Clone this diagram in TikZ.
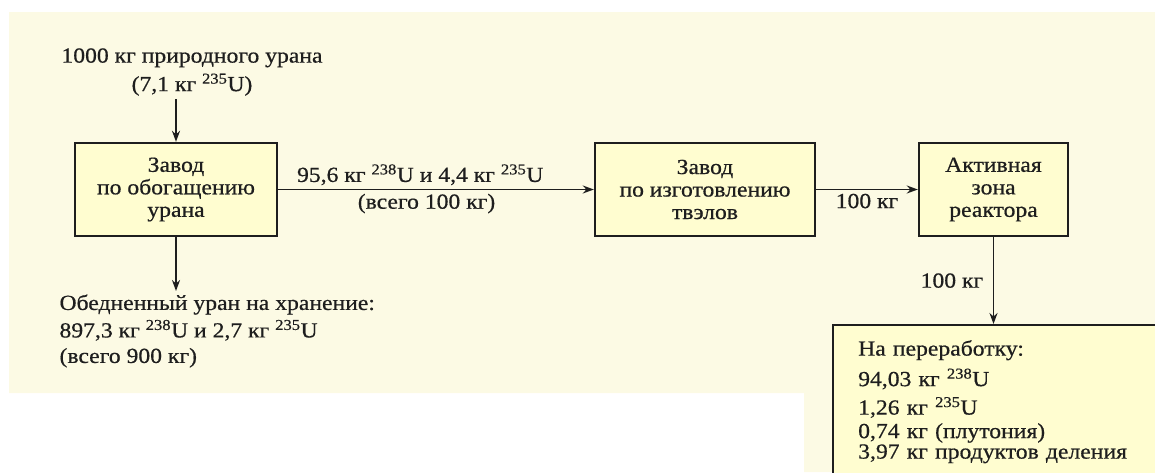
\documentclass[tikz,border=0pt]{standalone}
\usepackage{fontspec}
\setmainfont[FakeStretch=1.1, FakeBold=0.6]{Liberation Serif}
\usepackage{xcolor}
\usetikzlibrary{arrows.meta}
\definecolor{bgcream}{RGB}{252,250,228}
\definecolor{boxyellow}{RGB}{255,253,208}
\definecolor{inkgray}{RGB}{30,30,30}

\begin{document}
\begin{tikzpicture}[x=1pt, y=-1pt, >={Stealth[length=11pt,width=8pt]},
  every node/.style={font=\fontsize{21.5}{22.5}\selectfont, text=inkgray},
  plant/.style={draw=inkgray, fill=boxyellow, line width=2.4pt, minimum height=93pt, align=center, inner sep=0pt},
  flow/.style={->, draw=inkgray, line width=1.9pt}]
\useasboundingbox (0,0) rectangle (1155,472);
\clip (0,0) rectangle (1155,472);
% Background
\fill[bgcream] (9,12) -- (1155,12) -- (1155,472) -- (804,472) -- (804,393) -- (9,393) -- cycle;

% Enrichment
\node[align=center] (natural) at (192,72) {1000 кг природного урана\\[6pt](7,1 кг \textsuperscript{235}U)};
\node[plant, minimum width=202pt] (enrich) at (176,189.5) {Завод\\по обогащению\\урана};
\node[align=left, anchor=north west] (depleted) at (56,291) {Обедненный уран на хранение:\\[5pt]897,3 кг \textsuperscript{238}U и 2,7 кг \textsuperscript{235}U\\[3pt](всего 900 кг)};
\draw[flow] (natural.south -| enrich.north) -- (enrich.north);
\draw[flow] (enrich.south) -- (enrich.south |- depleted.north);

% Fuel and reactor
\node[plant, minimum width=220pt] (fab) at (705,189.5) {Завод\\по изготовлению\\твэлов};
\node[plant, minimum width=149pt] (core) at (993.5,189.5) {Активная\\зона\\реактора};
\node[plant, anchor=north west, align=left, text width=300pt, inner xsep=25pt, inner ysep=15pt, minimum height=0pt] (reproc) at (832,324) {На переработку:\\[8pt]
  94,03 кг \textsuperscript{238}U\\[6pt]
  1,26 кг \textsuperscript{235}U\\[1pt]
  0,74 кг (плутония)\\[-2pt]
  3,97 кг продуктов деления\rule[-40pt]{0pt}{0pt}};

\draw[flow] (enrich.east) -- node[above, pos=0.45] {95,6 кг \textsuperscript{238}U и 4,4 кг \textsuperscript{235}U} node[below, pos=0.47] {(всего 100 кг)} (fab.west);
\draw[flow] (fab.east) -- node[below] {100 кг} (core.west);
\draw[flow] (core.south) -- node[left, xshift=-6pt] {100 кг} (core.south |- reproc.north);
\end{tikzpicture}
\end{document}
